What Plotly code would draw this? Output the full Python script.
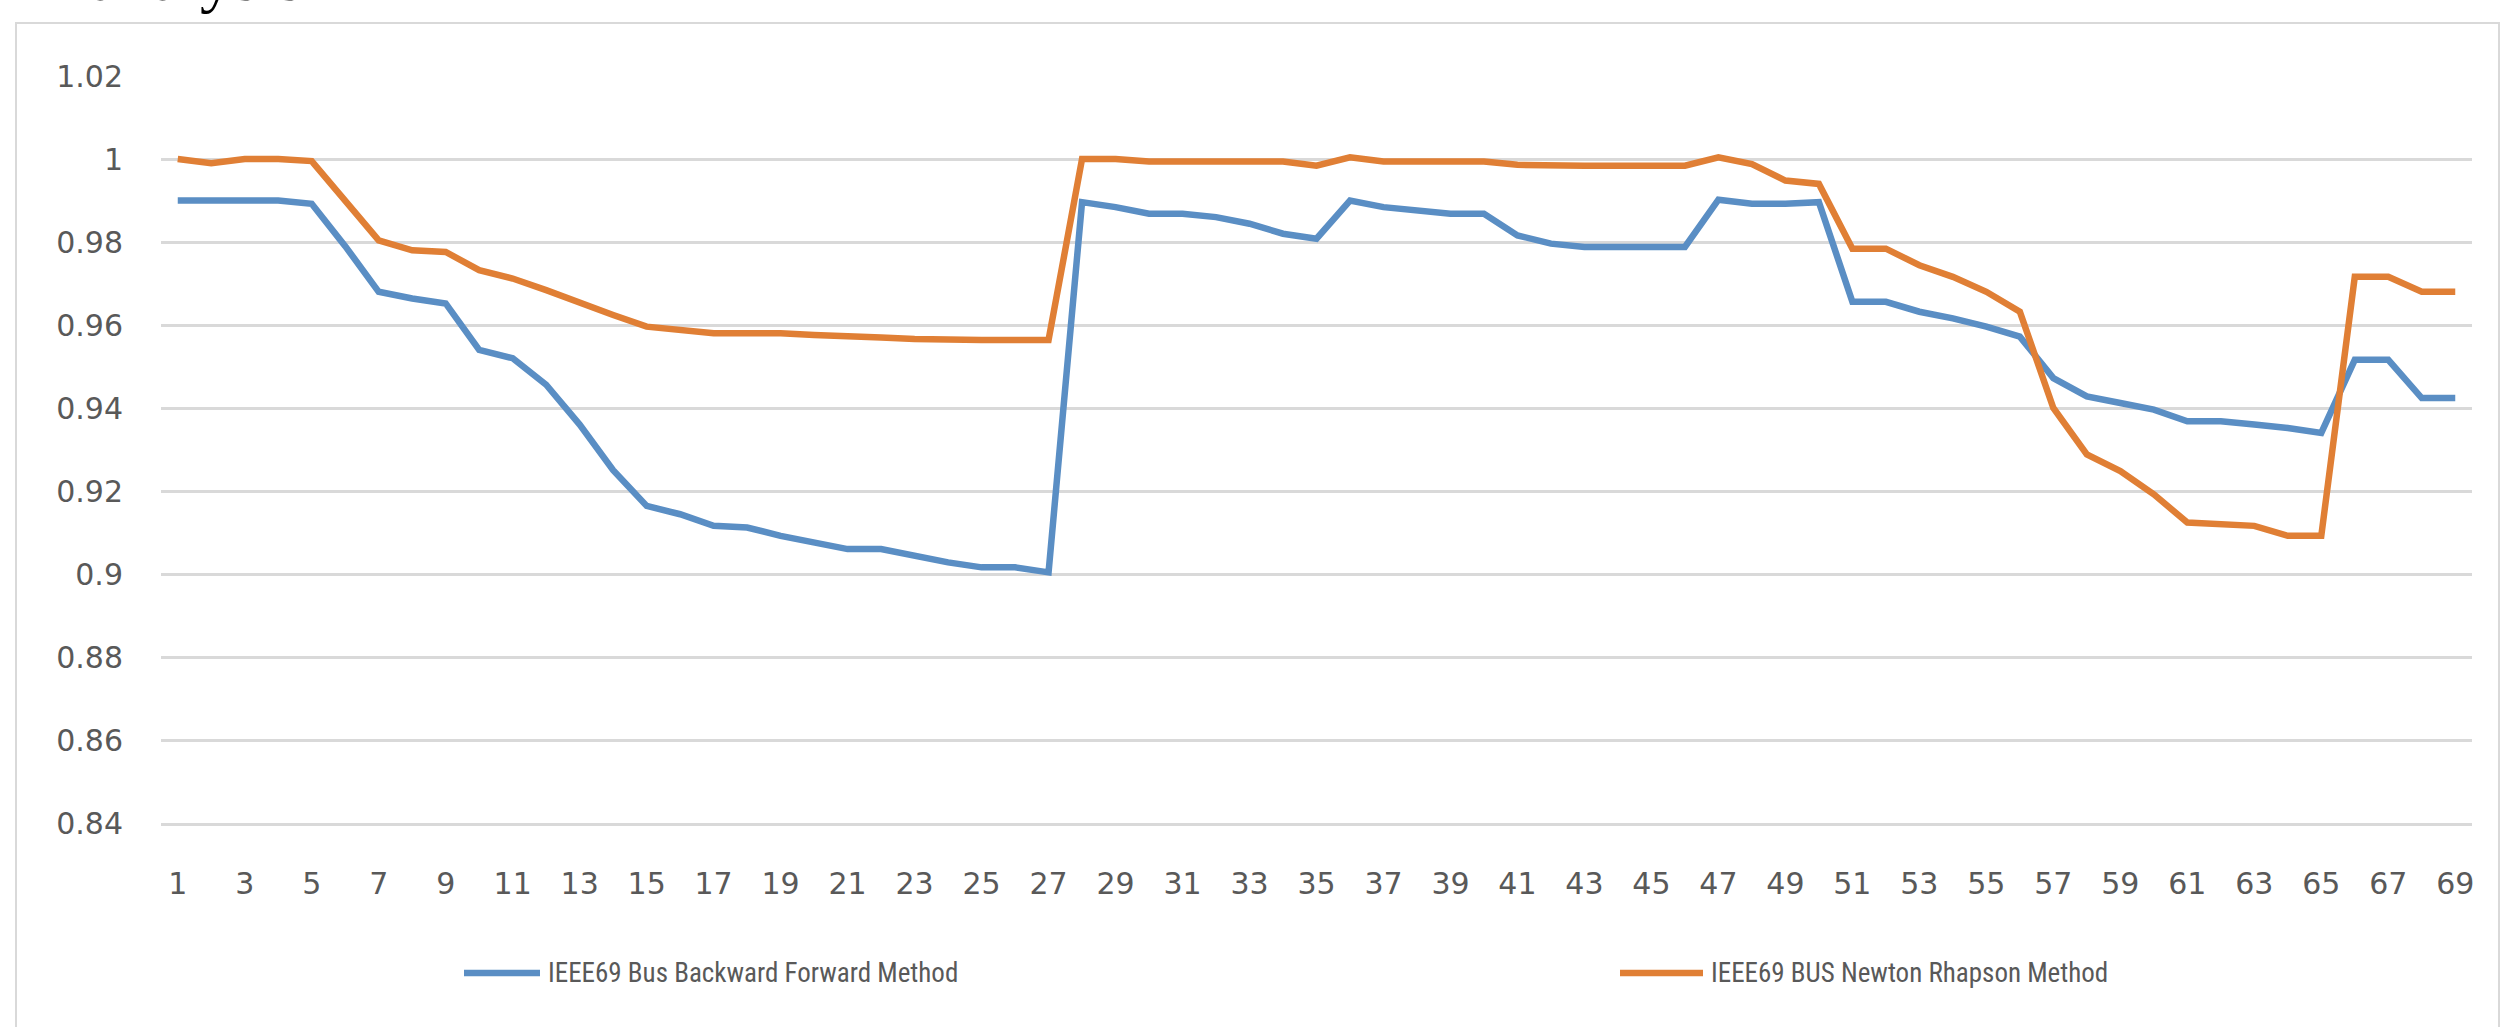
import plotly.graph_objects as go

# Bus numbers of the IEEE 69-bus test feeder
buses = list(range(1, 70))

# Per-unit bus voltages, backward/forward sweep load flow
backward_forward = [
    0.990, 0.990, 0.990, 0.990, 0.9892, 0.979, 0.968, 0.9664, 0.9652, 0.954,
    0.952, 0.9456, 0.936, 0.925, 0.9164, 0.9144, 0.9116, 0.9112, 0.9092, 0.9076,
    0.906, 0.906, 0.9044, 0.9028, 0.9016, 0.9016, 0.9004, 0.9896, 0.9884, 0.9868,
    0.9868, 0.986, 0.9844, 0.982, 0.9808, 0.990, 0.9884, 0.9876, 0.9868, 0.9868,
    0.9816, 0.9796, 0.9788, 0.9788, 0.9788, 0.9788, 0.9902, 0.9892, 0.9892, 0.9896,
    0.9656, 0.9656, 0.9632, 0.9616, 0.9596, 0.9572, 0.9472, 0.9428, 0.9412, 0.9396,
    0.9368, 0.9368, 0.936, 0.9352, 0.934, 0.9516, 0.9516, 0.9424, 0.9424,
]

# Per-unit bus voltages, Newton-Raphson load flow
newton_raphson = [
    1.000, 0.999, 1.000, 1.000, 0.9995, 0.990, 0.9804, 0.978, 0.9776, 0.9732,
    0.9712, 0.9684, 0.9652, 0.9624, 0.9596, 0.9588, 0.958, 0.958, 0.958, 0.9576,
    0.9574, 0.957, 0.9566, 0.9564, 0.9564, 0.9564, 0.9564, 1.000, 1.000, 0.9994,
    0.9994, 0.9994, 0.9994, 0.9994, 0.9984, 1.0004, 0.9994, 0.9994, 0.9994, 0.9994,
    0.9986, 0.9984, 0.9984, 0.9984, 0.9984, 0.9984, 1.0004, 0.9988, 0.9948, 0.994,
    0.9784, 0.9784, 0.9744, 0.9716, 0.968, 0.9632, 0.940, 0.9288, 0.9248, 0.9192,
    0.9124, 0.912, 0.9116, 0.9092, 0.9092, 0.9716, 0.9716, 0.968, 0.968,
]

series_names = [
    "IEEE69 Bus Backward Forward Method",
    "IEEE69 BUS Newton Rhapson Method",
]
series_colors = ["#5a8ec4", "#e07f35"]

y_ticks = [0.84, 0.86, 0.88, 0.90, 0.92, 0.94, 0.96, 0.98, 1.00, 1.02]
y_tick_labels = ["0.84", "0.86", "0.88", "0.9", "0.92", "0.94", "0.96", "0.98", "1", "1.02"]
x_ticks = [b for b in buses if b % 2 == 1]
x_tick_labels = [str(b) for b in x_ticks]

# Canvas geometry (pixels)
W, H = 2507, 1027
L, R, T, B = 161, 35, 76, 204
PW, PH = W - L - R, H - T - B


def px_x(x):
    return (x - L) / PW


def px_y(y):
    return (H - B - y) / PH


GRID = "#d9d9d9"
TICK_FONT = dict(family="DejaVu Sans", size=30, color="#595959")
LEGEND_FONT = dict(family="Liberation Sans Narrow, Roboto Condensed, Arial Narrow, sans-serif",
                   size=27, color="#595959")

fig = go.Figure()
for name, values, color in zip(series_names, [backward_forward, newton_raphson], series_colors):
    fig.add_trace(go.Scatter(
        x=buses, y=values, mode="lines", name=name,
        line=dict(color=color, width=6.5),
        showlegend=False,
    ))

shapes = [
    # chart-area frame
    dict(type="rect", xref="paper", yref="paper",
         x0=px_x(16), x1=px_x(2499), y0=px_y(1060), y1=px_y(23),
         line=dict(color=GRID, width=2), fillcolor="rgba(0,0,0,0)", layer="below"),
]
annotations = []

# legend drawn as line swatch + label, centred under the plot
legend_items = [(464, 540, 546), (1620, 1703, 1709)]
for (lx0, lx1, tx), name, color in zip(legend_items, series_names, series_colors):
    shapes.append(dict(type="line", xref="paper", yref="paper",
                       x0=px_x(lx0), x1=px_x(lx1), y0=px_y(973), y1=px_y(973),
                       line=dict(color=color, width=6.5)))
    annotations.append(dict(xref="paper", yref="paper", x=px_x(tx), y=px_y(973),
                            xanchor="left", yanchor="middle", text=name,
                            showarrow=False, font=LEGEND_FONT))

# section heading running off the top of the page
annotations.append(dict(xref="paper", yref="paper", x=px_x(88), y=px_y(16),
                        xanchor="left", yanchor="bottom", text="analysis",
                        showarrow=False,
                        font=dict(family="Liberation Serif", size=66, color="#000000")))

fig.update_layout(
    width=W, height=H,
    margin=dict(l=L, r=R, t=T, b=B, pad=0),
    paper_bgcolor="white", plot_bgcolor="white",
    shapes=shapes, annotations=annotations,
    xaxis=dict(
        range=[0.5, 69.5], tickmode="array", tickvals=x_ticks, ticktext=x_tick_labels,
        showgrid=False, zeroline=False,
        showline=True, linecolor=GRID, linewidth=2.5,
        ticks="outside", ticklen=32, tickcolor="rgba(0,0,0,0)",
        tickfont=TICK_FONT,
    ),
    yaxis=dict(
        range=[0.84, 1.02], tickmode="array", tickvals=y_ticks, ticktext=y_tick_labels,
        showgrid=True, gridcolor=GRID, gridwidth=2.5, zeroline=False, showline=False,
        ticks="outside", ticklen=31, tickcolor="rgba(0,0,0,0)",
        tickfont=TICK_FONT,
    ),
)

fig.write_html("out.html")
